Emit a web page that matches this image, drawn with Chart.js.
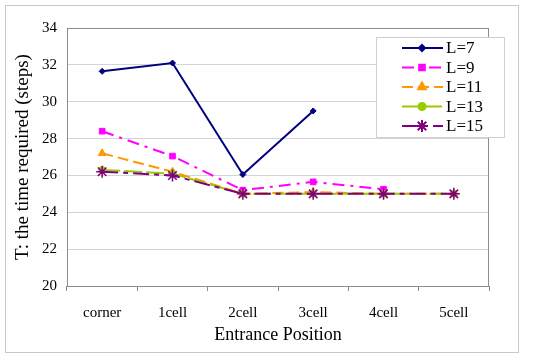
<!DOCTYPE html>
<html>
<head>
<meta charset="utf-8">
<script src="https://cdn.jsdelivr.net/npm/chart.js@4"></script>
<style>
  html, body { margin: 0; padding: 0; background: #fff; }
  #wrap { width: 545px; height: 358px; }
</style>
</head>
<body>
<div id="wrap"><canvas id="chart" width="545" height="358"></canvas></div>
<script>
const positions = ["corner", "1cell", "2cell", "3cell", "4cell", "5cell"];
const seriesNames = ["L=7", "L=9", "L=11", "L=13", "L=15"];
const l7 = [31.65, 32.1, 26.05, 29.5, null, null];
const l9 = [28.4, 27.05, 25.2, 25.65, 25.25, null];
const l11 = [27.2, 26.2, 25.0, 25.1, 25.0, 25.0];
const l13 = [26.3, 26.1, 25.0, 25.0, 25.0, 25.0];
const l15 = [26.2, 26.0, 25.0, 25.0, 25.0, 25.0];
const yTicks = [20, 22, 24, 26, 28, 30, 32, 34];

const serif = "'Liberation Serif', 'DejaVu Serif', serif";

const styles = [
  { color: "#000080", dash: [], point: "rectRot", r: 3 },
  { color: "#ff00ff", dash: [12, 6, 3, 6], point: "rect", r: 4 },
  { color: "#ff9900", dash: [11, 5], point: "triangle", r: 4.5 },
  { color: "#99cc00", dash: [18, 4], point: "circle", r: 3.5 },
  { color: "#800080", dash: [16, 5, 5, 5], point: "star", r: 6 },
];

const allData = [l7, l9, l11, l13, l15];

const datasets = allData.map((d, i) => ({
  label: seriesNames[i],
  data: d,
  borderColor: styles[i].color,
  backgroundColor: styles[i].color,
  borderWidth: 2,
  borderDash: styles[i].dash,
  pointStyle: styles[i].point,
  pointRadius: styles[i].r,
  pointBorderWidth: i === 4 ? 1.5 : 1,
  tension: 0,
  fill: false,
  spanGaps: false,
  order: 5 - i,
}));

// frame round the whole picture + legend box inside the plot
const decor = {
  id: "decor",
  beforeDraw(chart) {
    const c = chart.ctx;
    c.save();
    c.fillStyle = "#fff";
    c.fillRect(0, 0, chart.width, chart.height);
    c.strokeStyle = "#c8c8c8";
    c.lineWidth = 1;
    c.strokeRect(5.5, 5.5, 513, 347);
    c.restore();
  },
  afterDatasetsDraw(chart) {
    const c = chart.ctx;
    const a = chart.chartArea;
    c.save();
    // plot border
    c.strokeStyle = "#8c8c8c";
    c.lineWidth = 1;
    c.strokeRect(a.left + 0.5, a.top + 0.5, a.right - a.left - 1, a.bottom - a.top);
    // legend
    const bx = 376.5, by = 37.5, bw = 128, bh = 100;
    c.fillStyle = "#fff";
    c.fillRect(bx, by, bw, bh);
    c.strokeStyle = "#d0d0d0";
    c.strokeRect(bx, by, bw, bh);
    chart.data.datasets.forEach((ds, i) => {
      const y = 48 + i * 19.5;
      c.strokeStyle = ds.borderColor;
      c.lineWidth = 2;
      c.setLineDash(ds.borderDash);
      c.beginPath();
      c.moveTo(402, y);
      c.lineTo(443, y);
      c.stroke();
      c.setLineDash([]);
      c.fillStyle = ds.borderColor;
      c.strokeStyle = ds.borderColor;
      Chart.helpers.drawPoint(c, {
        pointStyle: ds.pointStyle,
        radius: ds.pointRadius,
        rotation: 0,
        borderWidth: ds.pointBorderWidth,
      }, 422, y);
      c.fillStyle = "#000";
      c.font = "17px " + serif;
      c.textBaseline = "middle";
      c.fillText(ds.label, 446, y + 1);
    });
    c.restore();
  },
};

new Chart(document.getElementById("chart"), {
  type: "line",
  data: { labels: positions, datasets },
  plugins: [decor],
  options: {
    responsive: false,
    animation: false,
    layout: { padding: { left: 0, top: 28, right: 56, bottom: 0 } },
    plugins: {
      legend: { display: false },
      tooltip: { enabled: false },
    },
    scales: {
      x: {
        offset: true,
        grid: {
          offset: true,
          drawOnChartArea: false,
          tickLength: 5,
          color: "#8c8c8c",
        },
        border: { display: false },
        ticks: { color: "#000", font: { family: serif, size: 15 }, padding: 13, maxRotation: 0 },
        title: {
          display: true,
          text: "Entrance Position",
          color: "#000",
          font: { family: serif, size: 18 },
          padding: { top: 0, bottom: 12 },
        },
        afterFit(scale) { scale.height = 72; },
      },
      y: {
        min: 20,
        max: 34,
        afterBuildTicks(scale) { scale.ticks = yTicks.map(v => ({ value: v })); },
        grid: { color: "#d4d4d4", drawTicks: false },
        border: { display: false },
        ticks: { color: "#000", font: { family: serif, size: 15 }, padding: 10 },
        title: {
          display: true,
          text: "T: the time required (steps)",
          color: "#000",
          font: { family: serif, size: 19 },
          padding: { top: 12, bottom: 0 },
        },
        afterFit(scale) { scale.width = 67; },
      },
    },
  },
});
</script>
</body>
</html>
